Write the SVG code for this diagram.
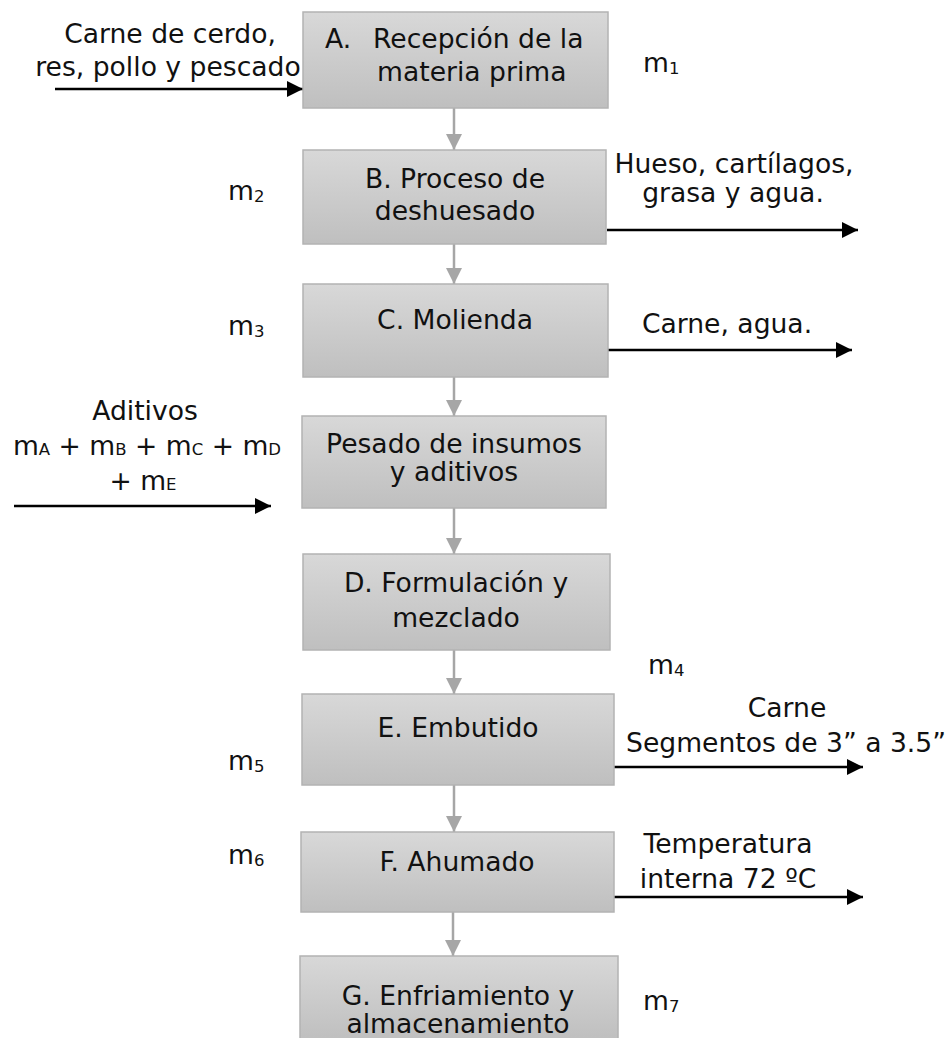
<svg xmlns="http://www.w3.org/2000/svg" width="949" height="1038" viewBox="0 0 949 1038">
<style>
text{font-family:"DejaVu Sans","Verdana",sans-serif;font-size:26.6px;fill:#111;}
.c{text-anchor:middle;}
.sub{font-size:16.5px;}
.box{fill:url(#g);stroke:#b3b3b3;stroke-width:1.5;}
.flow{stroke:#a6a6a6;stroke-width:2.5;fill:none;marker-end:url(#ga);}
.io{stroke:#000;stroke-width:2.5;fill:none;marker-end:url(#ba);}
</style>
<defs>
<linearGradient id="g" x1="0" y1="0" x2="0" y2="1">
<stop offset="0" stop-color="#d8d8d8"/>
<stop offset="1" stop-color="#bfbfbf"/>
</linearGradient>
<marker id="ga" markerUnits="userSpaceOnUse" markerWidth="18" markerHeight="16" refX="16" refY="8" orient="auto">
<path d="M0,0 L16,8 L0,16 Z" fill="#a6a6a6"/>
</marker>
<marker id="ba" markerUnits="userSpaceOnUse" markerWidth="18" markerHeight="16" refX="16" refY="8" orient="auto">
<path d="M0,0 L16,8 L0,16 Z" fill="#000"/>
</marker>
</defs>

<g id="connectors">
<line class="flow" x1="454" y1="108" x2="454" y2="150"/>
<line class="flow" x1="454" y1="244" x2="454" y2="284"/>
<line class="flow" x1="454" y1="377" x2="454" y2="416"/>
<line class="flow" x1="454" y1="508" x2="454" y2="554"/>
<line class="flow" x1="454" y1="650" x2="454" y2="694"/>
<line class="flow" x1="454" y1="785" x2="454" y2="832"/>
<line class="flow" x1="453" y1="912" x2="453" y2="956"/>
<line class="io" x1="55" y1="89" x2="303" y2="89"/>
<line class="io" x1="607" y1="230" x2="858" y2="230"/>
<line class="io" x1="608" y1="350" x2="852" y2="350"/>
<line class="io" x1="14" y1="506" x2="271" y2="506"/>
<line class="io" x1="614" y1="767" x2="863" y2="767"/>
<line class="io" x1="614" y1="897" x2="863" y2="897"/>
</g>

<g id="nodeA">
<rect class="box" x="303" y="12" width="305" height="96"/>
<text x="325" y="48">A.</text>
<text x="373" y="48">Recepción de la</text>
<text x="377" y="81">materia prima</text>
</g>
<g id="nodeB">
<rect class="box" x="303" y="150" width="303" height="94"/>
<text class="c" x="455" y="188">B. Proceso de</text>
<text class="c" x="455" y="220">deshuesado</text>
</g>
<g id="nodeC">
<rect class="box" x="303" y="284" width="305" height="93"/>
<text class="c" x="455" y="329">C. Molienda</text>
</g>
<g id="nodeP">
<rect class="box" x="302" y="416" width="304" height="92"/>
<text class="c" x="454" y="453">Pesado de insumos</text>
<text class="c" x="454" y="481">y aditivos</text>
</g>
<g id="nodeD">
<rect class="box" x="303" y="554" width="307" height="96"/>
<text class="c" x="456" y="592">D. Formulación y</text>
<text class="c" x="456" y="627">mezclado</text>
</g>
<g id="nodeE">
<rect class="box" x="302" y="694" width="312" height="91"/>
<text class="c" x="458" y="737">E. Embutido</text>
</g>
<g id="nodeF">
<rect class="box" x="301" y="832" width="313" height="80"/>
<text class="c" x="457" y="871">F. Ahumado</text>
</g>
<g id="nodeG">
<rect class="box" x="300" y="956" width="318" height="84"/>
<text class="c" x="458" y="1005">G. Enfriamiento y</text>
<text class="c" x="458" y="1033">almacenamiento</text>
</g>

<g id="labels">
<text class="c" x="170" y="43">Carne de cerdo,</text>
<text class="c" x="168" y="76">res, pollo y pescado</text>
<text class="c" x="734" y="173">Hueso, cartílagos,</text>
<text class="c" x="733" y="202">grasa y agua.</text>
<text class="c" x="727" y="333">Carne, agua.</text>
<text class="c" x="145" y="420">Aditivos</text>
<text class="c" x="147" y="455">m<tspan class="sub">A</tspan> + m<tspan class="sub">B</tspan> + m<tspan class="sub">C</tspan> + m<tspan class="sub">D</tspan></text>
<text class="c" x="143" y="490">+ m<tspan class="sub">E</tspan></text>
<text class="c" x="787" y="717">Carne</text>
<text class="c" x="786" y="752">Segmentos de 3” a 3.5”</text>
<text class="c" x="728" y="853">Temperatura</text>
<text class="c" x="728" y="888">interna 72 ºC</text>
<text x="643" y="72">m<tspan class="sub" dy="2">1</tspan></text>
<text x="228" y="200">m<tspan class="sub" dy="2">2</tspan></text>
<text x="228" y="335">m<tspan class="sub" dy="2">3</tspan></text>
<text x="648" y="674">m<tspan class="sub" dy="2">4</tspan></text>
<text x="228" y="770">m<tspan class="sub" dy="2">5</tspan></text>
<text x="228" y="864">m<tspan class="sub" dy="2">6</tspan></text>
<text x="643" y="1010">m<tspan class="sub" dy="2">7</tspan></text>
</g>
</svg>
